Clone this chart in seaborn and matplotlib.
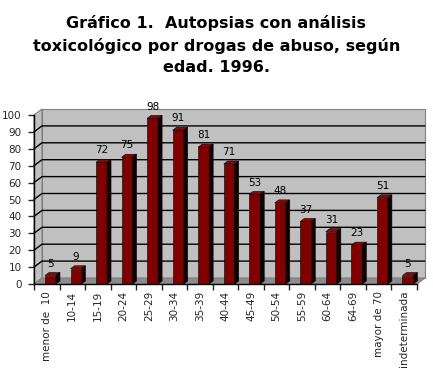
import numpy as np
import pandas as pd
import seaborn as sns
import matplotlib
matplotlib.use('Agg')
import matplotlib.pyplot as plt
from matplotlib.patches import Polygon

# datos
grupos = ['menor de  10', '10-14', '15-19', '20-24', '25-29', '30-34', '35-39', '40-44',
          '45-49', '50-54', '55-59', '60-64', '64-69', 'mayor de 70', 'indeterminada']
casos = [5, 9, 72, 75, 98, 91, 81, 71, 53, 48, 37, 31, 23, 51, 5]
marcas_y = list(range(0, 101, 10))

df = pd.DataFrame({'grupo': grupos, 'casos': casos})

sns.set_style('white')
plt.rcParams['font.family'] = ['DejaVu Sans']

W, H = 433, 378
fig = plt.figure(figsize=(W / 100, H / 100), dpi=100)
ax = fig.add_axes([34 / W, (H - 284) / H, 383 / W, 169 / H])
ax.set_facecolor('none')

n = len(grupos)

# profundidad del "3D" en pixeles -> unidades de datos
px_x = 383 / n
px_y = 169 / 100
ddx, ddy = 8 / px_x, 6 / px_y      # pared del fondo
bdx, bdy = 4 / px_x, 3 / px_y      # profundidad de cada barra
shift = 3.7 / px_x

x0, x1 = -0.5, n - 0.5
# pared del fondo, pared izquierda y suelo
ax.add_patch(Polygon([[x0 + ddx, ddy], [x1 + ddx, ddy], [x1 + ddx, 100 + ddy], [x0 + ddx, 100 + ddy]],
                     closed=True, fc='#c0c0c0', ec='#808080', lw=0.8, zorder=0.3, clip_on=False))
ax.add_patch(Polygon([[x0, 0], [x0 + ddx, ddy], [x0 + ddx, 100 + ddy], [x0, 100]],
                     closed=True, fc='#c0c0c0', ec='#808080', lw=0.8, zorder=0.3, clip_on=False))
ax.add_patch(Polygon([[x0, 0], [x1, 0], [x1 + ddx, ddy], [x0 + ddx, ddy]],
                     closed=True, fc='#8c8c8c', ec='#808080', lw=0.8, zorder=0.4, clip_on=False))

# lineas de division (10 a 90)
for v in marcas_y[1:-1]:
    ax.plot([x0, x0 + ddx, x1 + ddx], [v, v + ddy, v + ddy], color='black', lw=1,
            zorder=0.5, clip_on=False)

sns.barplot(data=df, x='grupo', y='casos', color='#800000', saturation=1, width=0.43,
            edgecolor='black', linewidth=0.4, ax=ax, zorder=3)

barras = list(ax.containers[0])
for p, v in zip(barras, casos):
    p.set_x(p.get_x() + shift)
    a = p.get_x()
    b = a + p.get_width()
    ax.add_patch(Polygon([[a, v], [b, v], [b + bdx, v + bdy], [a + bdx, v + bdy]],
                         closed=True, fc='#9a0000', ec='black', lw=0.4, zorder=3, clip_on=False))
    ax.add_patch(Polygon([[b, 0], [b, v], [b + bdx, v + bdy], [b + bdx, bdy]],
                         closed=True, fc='#100000', ec='black', lw=0.4, zorder=3, clip_on=False))
    ax.text(a + p.get_width() / 2, v + 7, str(v), ha='center', va='center', fontsize=7.5,
            color='black', zorder=4)

ax.set_xlim(x0, x1)
ax.set_ylim(0, 100)

# ejes
sns.despine(ax=ax, top=True, right=True)
for s in ['left', 'bottom']:
    ax.spines[s].set_color('black')
    ax.spines[s].set_linewidth(1)
    ax.spines[s].set_zorder(5)

ax.set_yticks(marcas_y)
ax.set_yticklabels([str(v) for v in marcas_y], fontsize=7.5)
ax.set_xticks(range(n))
ax.set_xticklabels(grupos, rotation=90, fontsize=7.5)
ax.set_xticks(np.arange(-0.5, n, 1), minor=True)
ax.tick_params(axis='y', which='major', direction='out', length=4, width=1, pad=5, left=True)
ax.tick_params(axis='x', which='major', length=0, pad=5)
ax.tick_params(axis='x', which='minor', direction='out', length=4, width=1, bottom=True)
ax.set_xlabel('')
ax.set_ylabel('')

fig.text(0.5, 1 - 15 / H,
         'Gráfico 1.  Autopsias con análisis\ntoxicológico por drogas de abuso, según\nedad. 1996.',
         ha='center', va='top', fontsize=11.5, fontweight='bold', linespacing=1.5, color='black')

fig.savefig('out.png', dpi=100)
